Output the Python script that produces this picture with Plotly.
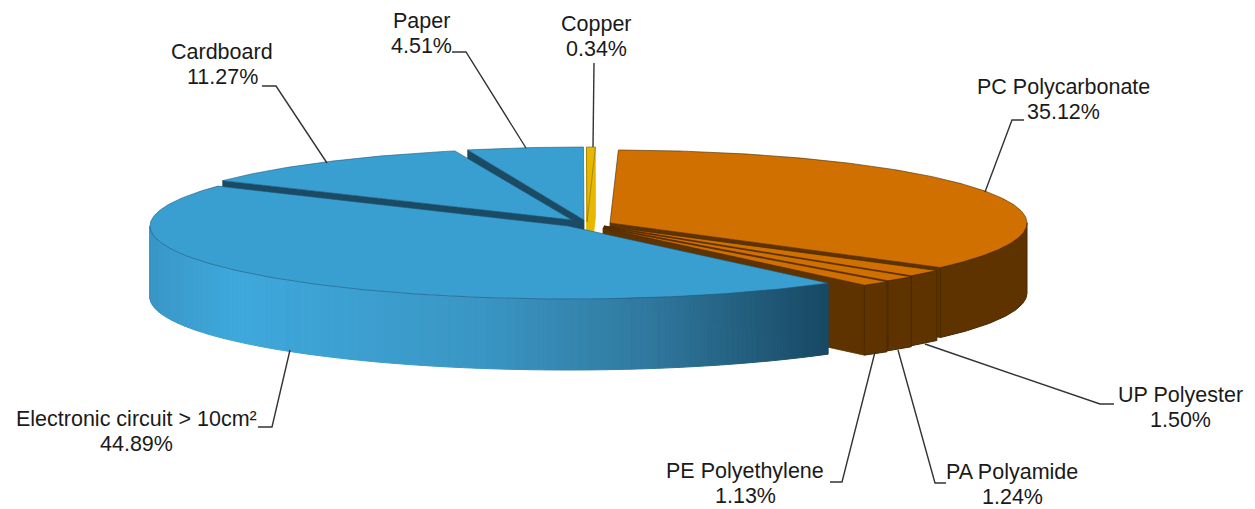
import math
import plotly.graph_objects as go

categories = ["Cardboard", "Paper", "Copper", "PC Polycarbonate", "UP Polyester",
              "PA Polyamide", "PE Polyethylene", "Electronic circuit > 10cm²"]
values = [11.27, 4.51, 0.34, 35.12, 1.50, 1.24, 1.13, 44.89]

# pie order, clockwise from the start angle
pie_order = ["PC Polycarbonate", "UP Polyester", "PA Polyamide", "PE Polyethylene",
             "Electronic circuit > 10cm²", "Cardboard", "Paper", "Copper"]
START = 1.15
VAL = dict(zip(categories, values))

# projected centre and radii of each exploded slice (pixels)
GEOM = {
    "PC Polycarbonate": (610, 223, 417, 73),
    "UP Polyester": (604, 226, 420, 73),
    "PA Polyamide": (604, 227, 420, 73),
    "PE Polyethylene": (603, 228, 420, 73),
    "Electronic circuit > 10cm²": (568, 226, 418, 73),
    "Cardboard": (572, 220, 417, 72),
    "Paper": (584, 220, 414, 73),
    "Copper": (587, 222, 420, 75),
}
DEPTH = 70
BLUE, BLUE_D = "#399fd0", "#1b4b64"
ORANGE, BROWN = "#d07000", "#5e3300"
COL = {c: (BLUE, BLUE_D) for c in categories}
for c in ["PC Polycarbonate", "UP Polyester", "PA Polyamide", "PE Polyethylene"]:
    COL[c] = (ORANGE, BROWN)
COL["Copper"] = ("#e8b800", "#e8b800")
EDGE = {BLUE: "#20587a", ORANGE: "#4a2800", "#e8b800": "#7a6400"}

# angular spans from the values
spans = {}
t = START
for name in pie_order:
    s = VAL[name] * 3.6
    spans[name] = (t, t + s)
    t += s

fig = go.Figure()


def poly(xs, ys, fill, line=None, w=0.8):
    fig.add_trace(go.Scatter(x=xs, y=ys, mode="lines", fill="toself", fillcolor=fill,
                             line=dict(color=line or fill, width=w),
                             hoverinfo="skip", showlegend=False))


def pt(name, deg):
    cx, cy, a, b = GEOM[name]
    r = math.radians(deg)
    return cx + a * math.sin(r), cy - b * math.cos(r)


def blue_grad(x):
    stops = [(150, (58, 151, 199)), (235, (62, 168, 220)), (480, (58, 150, 196)),
             (650, (48, 120, 158)), (830, (24, 72, 98))]
    for (x0, c0), (x1, c1) in zip(stops, stops[1:]):
        if x <= x1:
            f = max(0, (x - x0) / (x1 - x0))
            return "rgb(%d,%d,%d)" % tuple(round(p + (q - p) * f) for p, q in zip(c0, c1))
    return "rgb(24,72,98)"


def draw(name):
    t0, t1 = spans[name]
    top, wall = COL[name]
    cx, cy, a, b = GEOM[name]
    # cut wall
    if math.sin(math.radians(t0)) < 0:
        x, y = pt(name, t0)
        poly([cx, x, x, cx, cx], [cy, y, y + DEPTH, cy + DEPTH, cy], wall)
    if math.sin(math.radians(t1)) > 0:
        x, y = pt(name, t1)
        poly([cx, x, x, cx, cx], [cy, y, y + DEPTH, cy + DEPTH, cy], wall)
    # outer rim
    r0, r1 = max(t0, 90), min(t1, 270)
    if r1 > r0:
        n = max(2, int(r1 - r0) * 2)
        angs = [r0 + (r1 - r0) * i / n for i in range(n + 1)]
        if name.startswith("Electronic"):
            for p, q in zip(angs, angs[1:]):
                x0, y0 = pt(name, p)
                x1, y1 = pt(name, q)
                poly([x0, x1, x1, x0, x0], [y0, y1, y1 + DEPTH + 1, y0 + DEPTH + 1, y0],
                     blue_grad((x0 + x1) / 2), w=1)
        else:
            pts = [pt(name, q) for q in angs]
            xs = [p[0] for p in pts]
            ys = [p[1] for p in pts]
            poly(xs + xs[::-1] + xs[:1], ys + [v + DEPTH for v in ys[::-1]] + ys[:1], wall,
                 EDGE[top], 1)
    # top face
    n = max(2, int(t1 - t0) * 2)
    pts = [pt(name, t0 + (t1 - t0) * i / n) for i in range(n + 1)]
    poly([cx] + [p[0] for p in pts] + [cx], [cy] + [p[1] for p in pts] + [cy], top, EDGE[top], 0.6)


for name in ["Paper", "Cardboard", "Copper", "PC Polycarbonate", "UP Polyester",
             "PA Polyamide", "PE Polyethylene", "Electronic circuit > 10cm²"]:
    draw(name)

# leader lines: label -> slice
LEADERS = {
    "Copper": ([594, 593], [63, 147]),
    "Paper": ([452, 466, 526], [52, 52, 148]),
    "Cardboard": ([262, 276, 327], [86, 86, 163]),
    "PC Polycarbonate": ([1024, 1012, 985], [120, 120, 192]),
    "UP Polyester": ([1114, 1100, 925], [404, 404, 344]),
    "PA Polyamide": ([946, 935, 898], [483, 483, 350]),
    "PE Polyethylene": ([830, 842, 875], [482, 482, 352]),
    "Electronic circuit > 10cm²": ([258, 272, 290], [427, 427, 350]),
}
for name, (lx, ly) in LEADERS.items():
    fig.add_trace(go.Scatter(x=lx, y=ly, mode="lines", line=dict(color="#333333", width=1.4),
                             hoverinfo="skip", showlegend=False))

LABEL_POS = {
    "Copper": (596, 24), "Paper": (421, 21), "Cardboard": (222, 52),
    "PC Polycarbonate": (1063, 87), "UP Polyester": (1180, 395),
    "PA Polyamide": (1012, 472), "PE Polyethylene": (745, 471),
    "Electronic circuit > 10cm²": (136, 419),
}
LINE_STEP = 25
for name, (x, y) in LABEL_POS.items():
    for i, txt in enumerate([name, f"{VAL[name]:.2f}%"]):
        fig.add_annotation(x=x, y=y + i * LINE_STEP, xref="x", yref="y", showarrow=False,
                           text=txt, borderpad=0,
                           font=dict(family="Liberation Sans", size=21.5, color="#1a1a1a"))

fig.update_layout(width=1255, height=509, margin=dict(l=0, r=0, t=0, b=0),
                  paper_bgcolor="white", plot_bgcolor="white", showlegend=False,
                  xaxis=dict(range=[0, 1255], visible=False, fixedrange=True),
                  yaxis=dict(range=[509, 0], visible=False, fixedrange=True))
fig.write_html("out.html", config=dict(displayModeBar=False),
               post_script="document.body.style.margin='0';document.body.style.overflow='hidden';")
